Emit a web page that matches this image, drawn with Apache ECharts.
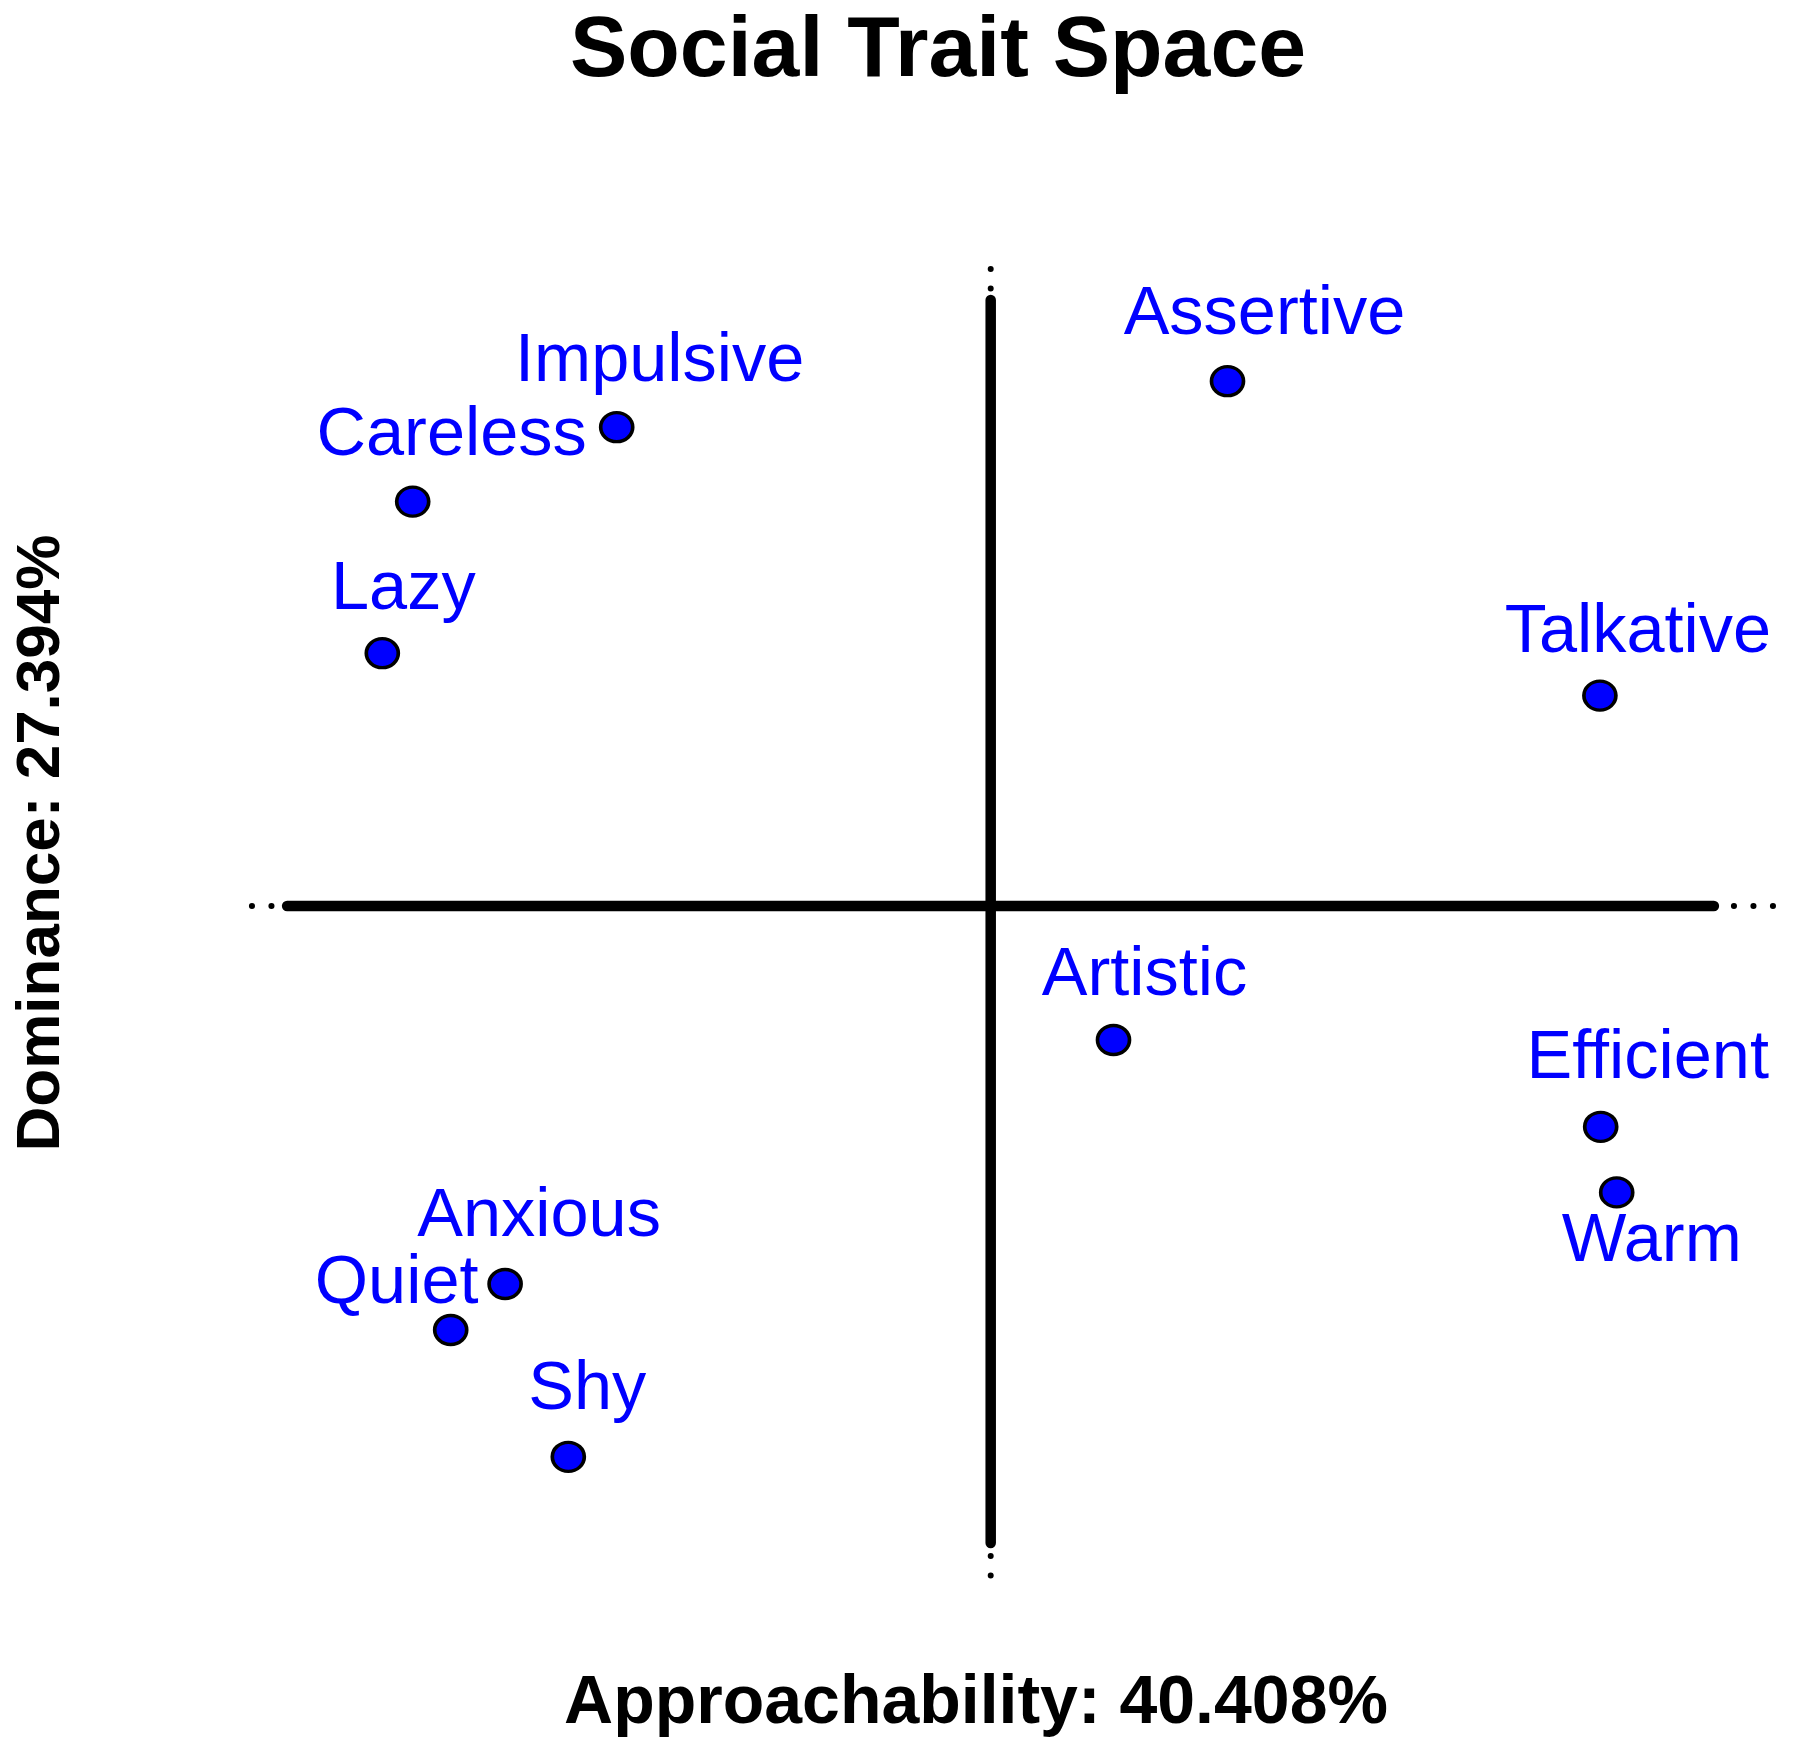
<!DOCTYPE html>
<html>
<head>
<meta charset="utf-8">
<script src="https://cdn.jsdelivr.net/npm/echarts@6/dist/echarts.min.js"></script>
<style>
html,body{margin:0;padding:0;background:#fff;}
#chart{width:1800px;height:1746px;}
</style>
</head>
<body>
<div id="chart"></div>
<script>
// ---- data ----
const traits = ['Assertive','Impulsive','Careless','Lazy','Talkative','Artistic','Efficient','Warm','Anxious','Quiet','Shy'];
const approachability = [0.592, -0.935, -1.445, -1.521, 1.523, 0.307, 1.525, 1.565, -1.214, -1.350, -1.056];
const dominance = [1.312, 1.197, 1.011, 0.632, 0.526, -0.335, -0.552, -0.716, -0.945, -1.060, -1.377];
const titleText = 'Social Trait Space';
const xName = 'Approachability: 40.408%';
const yName = 'Dominance: 27.394%';

// ---- styles (label placement offsets in px) ----
const labelOffsets = [[37,-66],[43,-65],[39,-65],[21,-63],[38,-62],[31,-64],[47,-68],[35,50],[34,-67],[-54,-46],[19,-67]];

const points = traits.map((t, i) => ({
  name: t,
  value: [approachability[i], dominance[i]],
  label: { offset: labelOffsets[i] }
}));

const chart = echarts.init(document.getElementById('chart'), null, {renderer: 'canvas'});
const hidden = {axisLine:{show:false}, axisTick:{show:false}, axisLabel:{show:false}, splitLine:{show:false}};
const option = {
  animation: false,
  backgroundColor: '#ffffff',
  grid: {left: 250.7, right: 9.3, top: 262, bottom: 156},
  xAxis: Object.assign({type: 'value', min: -1.85, max: 2.0}, hidden),
  yAxis: Object.assign({type: 'value', min: -1.71, max: 1.61}, hidden),
  graphic: [
    {type: 'text', x: 938, y: 52, style: {text: titleText, font: 'bold 86px "Liberation Sans", Arial, sans-serif', fill: '#000', align: 'center', verticalAlign: 'middle'}},
    {type: 'text', x: 976, y: 1704, style: {text: xName, font: 'bold 68px "Liberation Sans", Arial, sans-serif', fill: '#000', align: 'center', verticalAlign: 'middle'}},
    {type: 'text', x: 42, y: 843, rotation: Math.PI / 2, style: {text: yName, font: 'bold 62px "Liberation Sans", Arial, sans-serif', fill: '#000', align: 'center', verticalAlign: 'middle'}}
  ],
  series: [
    {type: 'line', data: [[-1.847, 0], [1.99, 0]], symbol: 'none', silent: true, z: 1,
     lineStyle: {color: '#000', width: 6, cap: 'round', type: [0.1, 19.4]}},
    {type: 'line', data: [[0, 1.5925], [0, -1.705]], symbol: 'none', silent: true, z: 1,
     lineStyle: {color: '#000', width: 6, cap: 'round', type: [0.1, 19.4]}},
    {type: 'line', data: [[-1.759, 0], [1.808, 0]], symbol: 'none', silent: true, z: 2,
     lineStyle: {color: '#000', width: 10.5, cap: 'round', type: 'solid'}},
    {type: 'line', data: [[0, 1.515], [0, -1.5925]], symbol: 'none', silent: true, z: 2,
     lineStyle: {color: '#000', width: 10.5, cap: 'round', type: 'solid'}},
    {type: 'scatter', z: 5, data: points, symbol: 'circle', symbolSize: [32, 29],
     itemStyle: {color: '#0000ff', borderColor: '#000', borderWidth: 3.5, opacity: 1},
     label: {show: true, position: 'inside', formatter: '{b}', color: '#0000ff',
             fontSize: 68.5, fontFamily: '"Liberation Sans", Arial, sans-serif', align: 'center', verticalAlign: 'middle'}}
  ]
};
chart.setOption(option);
</script>
</body>
</html>
